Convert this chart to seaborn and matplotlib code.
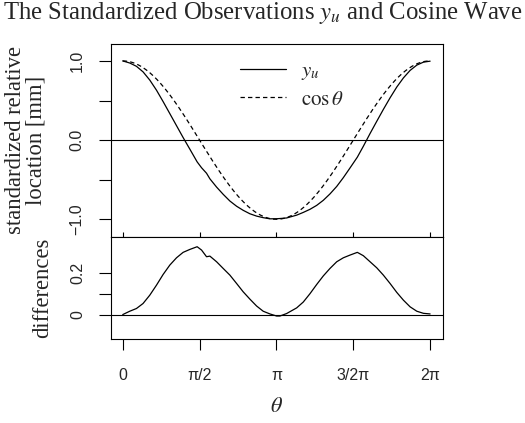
import numpy as np
import pandas as pd
import seaborn as sns
import matplotlib
matplotlib.use("Agg")
import matplotlib.pyplot as plt

# ---- data ----
theta = [0.0, 0.143, 0.280, 0.415, 0.553, 0.690, 0.825, 0.962, 1.099, 1.234,
         1.371, 1.521, 1.611, 1.713, 1.781, 1.918, 2.053, 2.190, 2.327, 2.462,
         2.599, 2.736, 2.871, 3.009, 3.146, 3.213, 3.350, 3.555, 3.690, 3.827,
         3.964, 4.099, 4.236, 4.374, 4.509, 4.646, 4.795, 4.918, 5.055, 5.192,
         5.327, 5.464, 5.602, 5.737, 5.874, 6.011, 6.146, 6.283]
differences = [0.0, 0.016, 0.029, 0.053, 0.093, 0.141, 0.192, 0.237, 0.272, 0.298,
               0.312, 0.325, 0.309, 0.277, 0.280, 0.253, 0.221, 0.189, 0.149, 0.109,
               0.074, 0.041, 0.016, 0.003, -0.007, -0.007, 0.005, 0.032, 0.060, 0.100,
               0.144, 0.185, 0.221, 0.253, 0.272, 0.285, 0.298, 0.282, 0.253, 0.224,
               0.189, 0.149, 0.106, 0.069, 0.037, 0.016, 0.006, 0.003]
xtick_multiples_of_pi = [0, 0.5, 1, 1.5, 2]
xtick_labels = ["0", "π/2", "π", "3/2π", "2π"]
top_yticks = [-1.0, -0.5, 0.0, 0.5, 1.0]
top_yticklabels = ["\u22121.0", "", "0.0", "", "1.0"]
bot_yticks = [0.0, 0.1, 0.2]
bot_yticklabels = ["0", "", "0.2"]

title = r"The Standardized Observations $y_u$ and Cosine Wave"
top_ylabel = "standardized relative\nlocation [mm]"
bot_ylabel = "differences"
xlabel = r"$\theta$"
legend_labels = [r"$y_u$", r"$\cos\theta$"]

# ---- styling ----
sns.set_style("ticks")
plt.rcParams["font.family"] = ["Liberation Serif", "DejaVu Serif"]
plt.rcParams["mathtext.fontset"] = "stix"
plt.rcParams["axes.linewidth"] = 0.8
plt.rcParams["axes.edgecolor"] = "black"

th = np.array(theta)
d = np.array(differences)
yu = np.cos(th) - d
theta_fine = np.linspace(0, 2 * np.pi, 361)
df_yu = pd.DataFrame({"theta": th, "value": yu})
df_cos = pd.DataFrame({"theta": theta_fine, "value": np.cos(theta_fine)})
df_diff = pd.DataFrame({"theta": th, "diff": d})

fig = plt.figure(figsize=(5.25, 4.23), dpi=100)
L, W = 111 / 525, (442.7 - 111) / 525
ax1 = fig.add_axes([L, 1 - 236.7 / 423, W, (236.7 - 44.3) / 423])
ax2 = fig.add_axes([L, 1 - 339 / 423, W, (339 - 236.7) / 423])

tickfont = dict(family=["Liberation Sans", "DejaVu Sans"], size=11.5)

# top panel
ax1.axhline(0, color="black", lw=0.8)
sns.lineplot(data=df_yu, x="theta", y="value", ax=ax1, color="black",
             lw=0.9, label=legend_labels[0])
sns.lineplot(data=df_cos, x="theta", y="value", ax=ax1, color="black",
             lw=0.9, linestyle=(0, (3.5, 2.5)), label=legend_labels[1])
ax1.set_xlim(-0.24, 6.54)
ax1.set_ylim(-1.22, 1.21)
ax1.set_xticks(np.array(xtick_multiples_of_pi) * np.pi)
ax1.set_xticklabels([])
ax1.tick_params(axis="x", direction="in", length=3.3, width=0.8, color="black")
ax1.set_yticks(top_yticks)
ax1.set_yticklabels(top_yticklabels, rotation=90, va="center", **tickfont)
ax1.tick_params(axis="y", direction="out", length=9, width=0.8, pad=10, color="black")
ax1.set_xlabel("")
ax1.set_ylabel("")
leg = ax1.legend(loc="upper left", bbox_to_anchor=(0.389, 0.91), frameon=False,
                 fontsize=15, handlelength=2.2, handletextpad=0.75,
                 borderpad=0, borderaxespad=0, labelspacing=0.38)

# bottom panel
ax2.axhline(0, color="black", lw=0.8)
sns.lineplot(data=df_diff, x="theta", y="diff", ax=ax2, color="black", lw=0.9)
ax2.set_xlim(-0.24, 6.54)
ax2.set_ylim(-0.117, 0.373)
ax2.set_xticks(np.array(xtick_multiples_of_pi) * np.pi)
ax2.set_xticklabels(xtick_labels, **tickfont)
ax2.tick_params(axis="x", direction="out", length=8, width=0.8, pad=13, color="black")
ax2.set_yticks(bot_yticks)
ax2.set_yticklabels(bot_yticklabels, rotation=90, va="center", **tickfont)
ax2.tick_params(axis="y", direction="out", length=8.5, width=0.8, pad=10, color="black")
ax2.set_xlabel("")
ax2.set_ylabel("")

for ax in (ax1, ax2):
    for s in ax.spines.values():
        s.set_visible(True)
        s.set_color("black")
        s.set_linewidth(0.8)

# texts
fig.text(0.5, 1 - 12.5 / 423, title, ha="center", va="center", fontsize=17.8)
fig.text(26 / 525, 1 - 140.5 / 423, top_ylabel, rotation=90, ha="center",
         va="center", fontsize=16.3, linespacing=0.95)
fig.text(43 / 525, 1 - 288 / 423, bot_ylabel, rotation=90, ha="center",
         va="center", fontsize=16.3)
fig.text((L + W / 2), 1 - 407 / 423, xlabel, ha="center", va="center", fontsize=16)

fig.savefig("out.png", dpi=100)
